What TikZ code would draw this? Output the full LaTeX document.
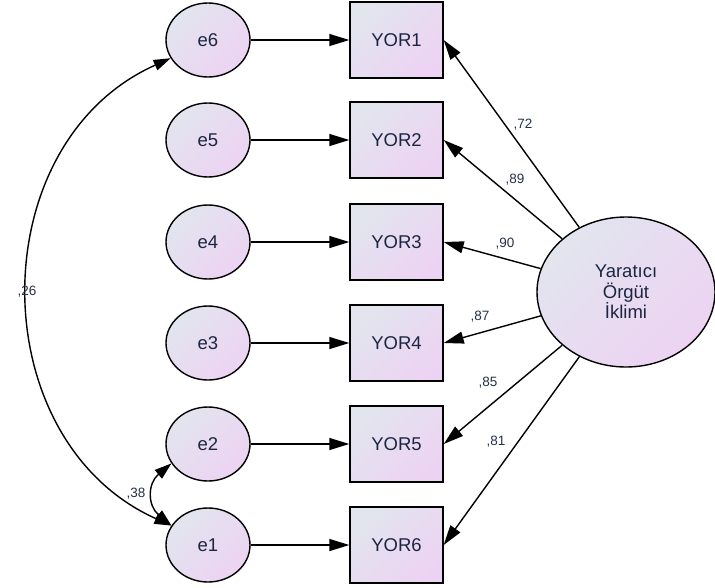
\documentclass[tikz,border=0pt]{standalone}
\usepackage{fontspec}
\setmainfont{Liberation Sans}
\usetikzlibrary{arrows.meta,shapes.geometric}
\definecolor{gA}{HTML}{E2E5EE}
\definecolor{gB}{HTML}{EDD3F3}
\definecolor{txt}{HTML}{1C2541}
\definecolor{lbl}{HTML}{25304A}
\tikzset{
  fillgrad/.style={top color=gA, bottom color=gB, shading angle=45},
  errnode/.style={ellipse, draw, line width=1.4pt, fillgrad, minimum width=84pt, minimum height=74pt, inner sep=0pt, text=txt, font=\fontsize{18.5}{20}\selectfont},
  obsbox/.style={rectangle, draw, line width=1.4pt, fillgrad, minimum width=93pt, minimum height=76pt, inner sep=0pt, text=txt, font=\fontsize{18.5}{20}\selectfont},
  latnode/.style={ellipse, draw, line width=1.4pt, fillgrad, minimum width=178pt, minimum height=150pt, inner sep=0pt, text=txt, align=center, font=\fontsize{18.5}{20.5}\selectfont},
  conn/.style={line width=1.4pt, -{Triangle[length=20pt,width=12pt]}},
  biconn/.style={line width=1.4pt, {Triangle[length=17pt,width=11pt]}-{Triangle[length=17pt,width=11pt]}},
  coef/.style={text=lbl, font=\fontsize{13.5}{15}\selectfont, inner sep=1pt}
}
\begin{document}
\begin{tikzpicture}[x=1pt,y=-1pt]
\useasboundingbox (0,0) rectangle (715,587);
% error terms
\node[errnode] (e6) at (208,40) {e6};
\node[errnode] (e5) at (208,140) {e5};
\node[errnode] (e4) at (208,242) {e4};
\node[errnode] (e3) at (208,343) {e3};
\node[errnode] (e2) at (208,444) {e2};
\node[errnode] (e1) at (208,545) {e1};
% observed
\node[obsbox] (y1) at (396.5,40) {YOR1};
\node[obsbox] (y2) at (396.5,140) {YOR2};
\node[obsbox] (y3) at (396.5,242) {YOR3};
\node[obsbox] (y4) at (396.5,343) {YOR4};
\node[obsbox] (y5) at (396.5,444) {YOR5};
\node[obsbox] (y6) at (396.5,545) {YOR6};
% latent
\node[latnode] (lat) at (626,292) {Yaratıcı\\Örgüt\\İklimi};
% error arrows
\draw[conn] (e6) -- (y1);
\draw[conn] (e5) -- (y2);
\draw[conn] (e4) -- (y3);
\draw[conn] (e3) -- (y4);
\draw[conn] (e2) -- (y5);
\draw[conn] (e1) -- (y6);
% loadings
\draw[conn] (lat) -- (y1.east);
\draw[conn] (lat) -- (y2.east);
\draw[conn] (lat) -- (y3.east);
\draw[conn] (lat) -- (y4.east);
\draw[conn] (lat) -- (y5.east);
\draw[conn] (lat) -- (y6.east);
% covariances
\draw[biconn] (e6.206) .. controls +(-190,85) and +(-190,-85) .. (e1.152);
\draw[biconn] (e2.208) .. controls +(-24,20) and +(-24,-20) .. (e1.152);
% coefficients
\node[coef] (c1) at (523,125) {,72};
\node[coef] (c2) at (515,180) {,89};
\node[coef] (c3) at (505,244) {,90};
\node[coef] (c4) at (480,317) {,87};
\node[coef] (c5) at (488,383) {,85};
\node[coef] (c6) at (496,442) {,81};
\node[coef] (c7) at (27,292) {,26};
\node[coef] (c8) at (136,494) {,38};
\end{tikzpicture}
\end{document}
